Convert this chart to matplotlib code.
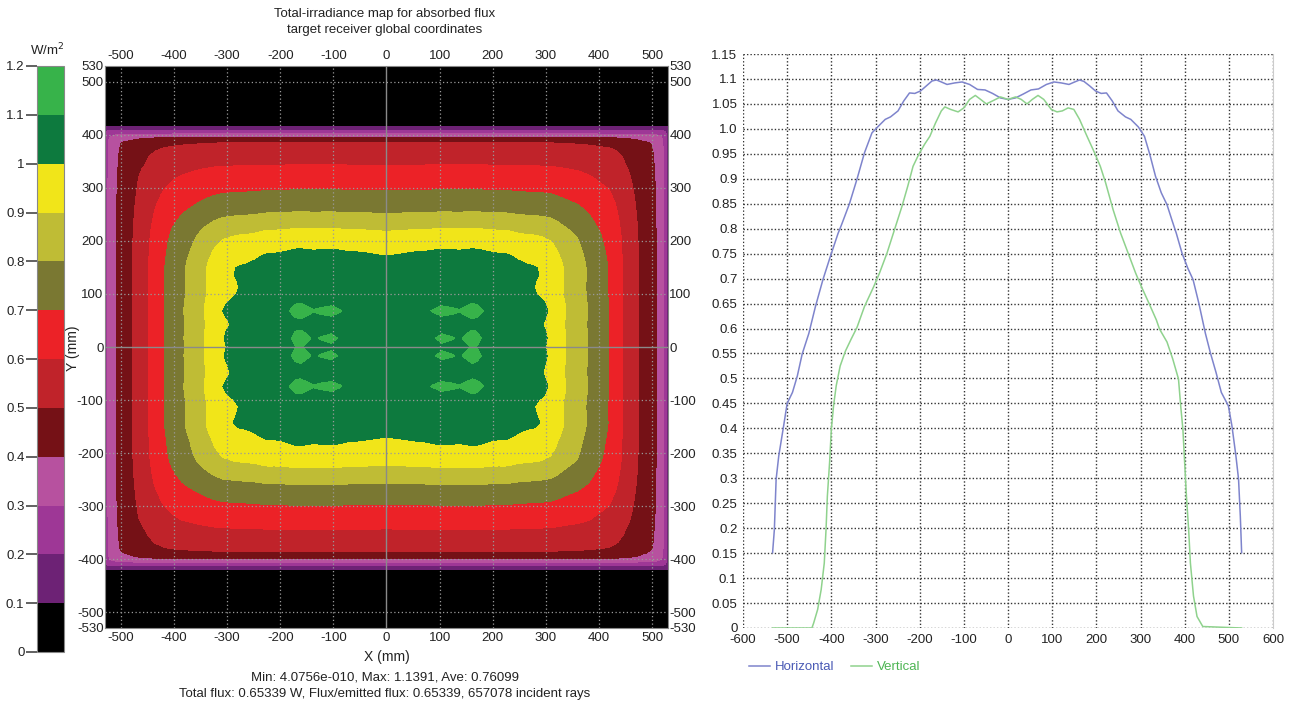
import numpy as np
import matplotlib
matplotlib.use("Agg")
import matplotlib.pyplot as plt
from matplotlib.colors import ListedColormap, BoundaryNorm

plt.rcParams['font.family'] = ['Liberation Sans', 'DejaVu Sans']
plt.rcParams['axes.unicode_minus'] = False

# ---------------- data ----------------
# Horizontal profile (X position mm, irradiance W/m^2)
h_x = [-533, -529, -525, -519, -508, -500, -488, -477, -466, -451, -436, -419, -402, -385,
       -376, -359, -342, -325, -308, -295, -278, -266, -249, -236, -223, -211, -198, -185,
       -172, -162, -151, -138, -121, -104, -87, -69, -52, -35, -17, 0,
       17, 35, 52, 69, 87, 104, 121, 138, 151, 162, 172, 185, 198, 211, 223, 236, 249,
       266, 278, 295, 309, 321, 334, 347, 360, 372, 381, 394, 407, 419, 432, 447, 458,
       471, 483, 499, 507, 516, 522, 526, 529]
h_val = [0.151, 0.197, 0.298, 0.345, 0.405, 0.450, 0.472, 0.505, 0.549, 0.590, 0.644, 0.698,
         0.745, 0.790, 0.810, 0.850, 0.899, 0.952, 0.992, 1.004, 1.019, 1.024, 1.036, 1.056,
         1.072, 1.071, 1.076, 1.086, 1.096, 1.098, 1.094, 1.089, 1.092, 1.094, 1.089, 1.079,
         1.078, 1.071, 1.062, 1.059,
         1.062, 1.070, 1.078, 1.080, 1.089, 1.094, 1.092, 1.089, 1.094, 1.098, 1.095, 1.086,
         1.076, 1.071, 1.072, 1.056, 1.036, 1.024, 1.019, 1.004, 0.985, 0.949, 0.905, 0.872,
         0.848, 0.815, 0.791, 0.751, 0.721, 0.698, 0.651, 0.590, 0.552, 0.512, 0.472, 0.445,
         0.405, 0.345, 0.298, 0.224, 0.151]

# Vertical profile (Y position mm, irradiance W/m^2)
v_x = [-533, -444, -440, -431, -423, -416, -412, -409, -404, -400, -395, -389, -380, -368,
       -355, -342, -325, -304, -291, -274, -257, -240, -227, -215, -202, -189, -177, -164,
       -151, -143, -130, -113, -100, -87, -74, -62, -49, -35, -17, 0,
       17, 30, 43, 55, 68, 81, 98, 111, 123, 136, 149, 162, 179, 196, 209, 221, 238, 255,
       272, 289, 302, 319, 336, 343, 360, 373, 386, 391, 396, 400, 404, 409, 413, 420,
       428, 441, 529]
v_val = [0.0, 0.0, 0.010, 0.037, 0.077, 0.130, 0.197, 0.264, 0.331, 0.398, 0.445, 0.485,
         0.525, 0.555, 0.579, 0.602, 0.644, 0.684, 0.711, 0.751, 0.798, 0.845, 0.885, 0.925,
         0.949, 0.969, 0.985, 1.012, 1.036, 1.044, 1.039, 1.034, 1.042, 1.059, 1.067, 1.059,
         1.050, 1.056, 1.064, 1.059,
         1.064, 1.059, 1.050, 1.059, 1.067, 1.059, 1.039, 1.034, 1.036, 1.042, 1.039, 1.019,
         0.985, 0.952, 0.925, 0.892, 0.838, 0.791, 0.751, 0.711, 0.684, 0.651, 0.617, 0.599,
         0.573, 0.539, 0.499, 0.445, 0.398, 0.331, 0.264, 0.197, 0.130, 0.064, 0.023, 0.003,
         0.0]

# Colour levels of the irradiance map
levels = [0, 0.1, 0.2, 0.3, 0.4, 0.5, 0.6, 0.7, 0.8, 0.9, 1.0, 1.1, 1.2]
level_colors = ['#000000', '#6D2275', '#9E3796', '#B7519F', '#751116', '#C0232A',
                '#EC2227', '#7A7832', '#BFBC35', '#F1E519', '#0D7A3E', '#37B34A']
level_labels = ['0', '0.1', '0.2', '0.3', '0.4', '0.5', '0.6', '0.7', '0.8', '0.9', '1', '1.1', '1.2']

map_xticks = [-500, -400, -300, -200, -100, 0, 100, 200, 300, 400, 500]
map_yticks = [-530, -500, -400, -300, -200, -100, 0, 100, 200, 300, 400, 500, 530]

prof_xticks = [-600, -500, -400, -300, -200, -100, 0, 100, 200, 300, 400, 500, 600]
prof_yticks = [0, 0.05, 0.1, 0.15, 0.2, 0.25, 0.3, 0.35, 0.4, 0.45, 0.5, 0.55, 0.6,
               0.65, 0.7, 0.75, 0.8, 0.85, 0.9, 0.95, 1.0, 1.05, 1.1, 1.15]
prof_ylabels = ['0', '0.05', '0.1', '0.15', '0.2', '0.25', '0.3', '0.35', '0.4', '0.45',
                '0.5', '0.55', '0.6', '0.65', '0.7', '0.75', '0.8', '0.85', '0.9', '0.95',
                '1.0', '1.05', '1.1', '1.15']

# ---------------- figure ----------------
W, H = 1294, 703
fig = plt.figure(figsize=(W / 100, H / 100), dpi=100)


def fr(x0, y0, x1, y1):
    return [x0 / W, 1 - y1 / H, (x1 - x0) / W, (y1 - y0) / H]


# Irradiance map: field combined from the two measured profiles
ax = fig.add_axes(fr(105, 66, 668, 628))
ax.set_facecolor('black')
hx = np.array(h_x, float)
hv = np.array(h_val, float)
vx = np.array(v_x, float)
vv = np.array(v_val, float)
ref = 1.056
p = 4.0
HH, VV = np.meshgrid(hv / ref, vv / ref)
with np.errstate(divide='ignore', invalid='ignore', over='ignore'):
    Z = ref * (HH ** -p + VV ** -p - 1.0) ** (-1.0 / p)
Z = np.nan_to_num(Z, nan=0.0, posinf=0.0)
cmap = ListedColormap(level_colors)
norm = BoundaryNorm(levels, cmap.N)
cs = ax.contourf(hx, vx, Z, levels=levels, cmap=cmap, norm=norm)
ax.set_xlim(-530, 530)
ax.set_ylim(-530, 530)
for v in map_xticks:
    if v != 0:
        ax.axvline(v, color='#9a9a9a', lw=0.9, ls=(0, (1, 2)), zorder=5)
for v in map_yticks:
    if v not in (0, 530, -530):
        ax.axhline(v, color='#9a9a9a', lw=0.9, ls=(0, (1, 2)), zorder=5)
ax.axvline(0, color='#8a8a8a', lw=1.0, zorder=5)
ax.axhline(0, color='#8a8a8a', lw=1.0, zorder=5)
ax.set_xticks(map_xticks)
ax.set_yticks(map_yticks)
ax.tick_params(axis='both', which='both', length=0, labelsize=9.5, pad=3,
               top=True, labeltop=True, right=True, labelright=True, colors='#222222')
ax.tick_params(axis='y', pad=1)
for s in ax.spines.values():
    s.set_color('#888888')
    s.set_linewidth(0.8)
ax.set_xlabel('X (mm)', fontsize=10, labelpad=4, color='#222222')
fig.text(73 / W, 1 - 348 / H, 'Y (mm)', rotation=90, ha='center', va='center',
         fontsize=10, color='#222222')
fig.text(385 / W, 1 - 14 / H, 'Total-irradiance map for absorbed flux',
         ha='center', va='center', fontsize=9.5, color='#222222')
fig.text(385 / W, 1 - 30 / H, 'target receiver global coordinates',
         ha='center', va='center', fontsize=9.5, color='#222222')
fig.text(385 / W, 1 - 677 / H, 'Min: 4.0756e-010, Max: 1.1391, Ave: 0.76099',
         ha='center', va='center', fontsize=9.5, color='#222222')
fig.text(385 / W, 1 - 694 / H,
         'Total flux: 0.65339 W, Flux/emitted flux: 0.65339, 657078 incident rays',
         ha='center', va='center', fontsize=9.5, color='#222222')

# Colour bar
cax = fig.add_axes(fr(37, 66, 64, 652))
cb = fig.colorbar(cs, cax=cax, ticks=levels)
cb.ax.yaxis.set_ticks_position('left')
cb.ax.set_yticklabels(level_labels)
cb.ax.tick_params(length=8, width=1.3, color='#555555', labelsize=9.5, pad=1,
                  labelcolor='#222222')
cb.outline.set_edgecolor('#888888')
cb.outline.set_linewidth(0.8)
fig.text(47 / W, 1 - 50 / H, 'W/m$^2$', ha='center', va='center', fontsize=9.5,
         color='#222222')

# Profiles
ax2 = fig.add_axes(fr(743, 54, 1273, 628))
ax2.plot(h_x, h_val, color='#7E84CC', lw=1.1, label='Horizontal')
ax2.plot(v_x, v_val, color='#8FD28D', lw=1.1, label='Vertical')
ax2.set_xlim(-600, 600)
ax2.set_ylim(0, 1.15)
ax2.set_xticks(prof_xticks)
ax2.set_yticks(prof_yticks)
ax2.set_yticklabels(prof_ylabels)
ax2.tick_params(length=0, labelsize=9.5, pad=4, colors='#222222')
ax2.grid(True, color='#333333', lw=1.0, ls=(0, (1, 1.5)))
ax2.set_axisbelow(True)
for k in ('left', 'top', 'bottom'):
    ax2.spines[k].set_visible(False)
ax2.spines['right'].set_color('#cccccc')
leg = fig.legend(loc='center left', bbox_to_anchor=(737 / W, 1 - 667 / H), ncol=2,
                 frameon=False, fontsize=9.5, handlelength=1.6, handletextpad=0.4,
                 columnspacing=1.2, labelcolor=['#4A5AB5', '#4DB553'])

fig.savefig('out.png', dpi=100)
